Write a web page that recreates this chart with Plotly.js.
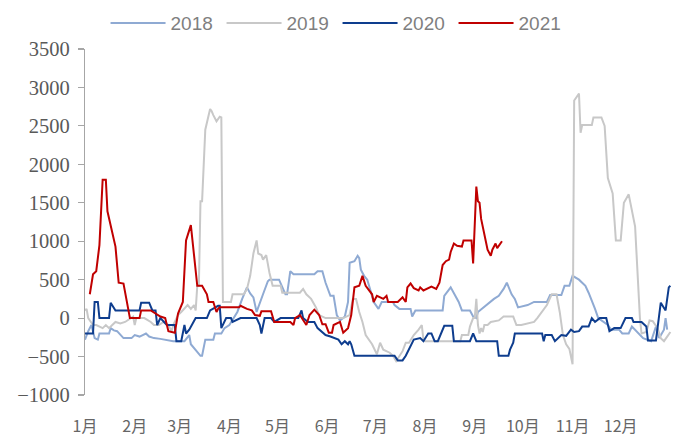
<!DOCTYPE html>
<html>
<head>
<meta charset="utf-8">
<script src="https://cdn.plot.ly/plotly-3.0.1.min.js"></script>
<style>html,body{margin:0;padding:0;background:#fff;}#chart{width:676px;height:437px;}</style>
</head>
<body>
<div id="chart"></div>
<script>
// x values are day-of-year offsets (0 = 1月1日)
const seriesNames = ['2018', '2019', '2020', '2021'];
const monthTickFormat = '%-m月';

const days2018 = [0,2,4,6,8,9,15,16,18,20,24,29,31,34,36,38,40,43,47,50,55,62,65,66,68,72,73,74,75,80,81,85,87,90,95,98,101,103,105,107,109,111,114,115,121,123,125,126,128,130,143,145,148,150,153,155,157,159,162,164,165,168,170,171,172,174,176,178,180,183,185,192,193,196,203,204,206,223,224,228,230,233,235,240,242,244,245,250,255,258,261,263,266,268,270,276,280,288,290,297,299,302,304,308,312,314,316,318,320,326,328,333,335,339,341,344,348,353,356,358,361,362,363];
const vals2018 = [-280,-170,-90,-260,-280,-200,-200,-130,-160,-170,-260,-260,-220,-240,-220,-200,-240,-260,-270,-280,-300,-300,-220,-340,-390,-490,-490,-400,-280,-280,-200,-200,-130,-90,80,250,400,320,270,80,210,310,480,500,500,400,310,310,610,570,570,610,610,460,290,290,40,-30,20,210,720,740,810,780,630,550,500,360,210,120,210,210,170,120,120,20,100,100,290,400,330,210,100,100,20,0,80,170,250,290,380,460,310,250,140,170,210,210,300,300,420,420,550,500,420,330,230,120,0,-90,-150,-150,-200,-200,-110,-170,-260,-300,-110,-260,-150,0,-150];

const days2019 = [0,1,2,5,7,11,13,15,17,19,22,25,30,31,32,37,41,43,46,49,52,54,55,58,60,62,64,66,68,69,70,71,72,73,74,75,78,79,80,82,84,85,86,91,92,99,101,103,105,107,108,110,111,113,115,117,122,123,134,136,138,141,144,146,148,150,161,165,167,169,171,173,175,179,182,183,184,186,190,192,194,198,200,202,205,208,210,211,212,234,235,239,240,242,243,244,245,246,247,248,249,251,253,258,261,267,269,272,280,282,285,288,291,294,296,298,300,302,304,305,308,309,310,316,317,322,324,326,329,331,334,336,339,342,343,346,347,350,352,354,357,359,361,363,365];
const vals2019 = [100,120,0,-90,-90,-130,-90,-130,-90,-50,-70,-50,20,-90,0,0,-50,-90,-90,-50,-90,-170,-90,40,80,120,170,120,170,100,420,420,1520,1520,2030,2450,2720,2690,2640,2560,2620,2610,210,210,310,310,380,550,840,1010,840,820,760,820,590,420,420,330,330,380,310,250,140,40,20,0,0,40,250,250,80,-50,-220,-340,-470,-390,-320,-410,-450,-490,-560,-430,-320,-320,-220,-150,-90,-280,-300,-300,-220,-220,-110,0,0,250,-90,-200,-130,-180,-90,-90,-50,-30,20,20,-90,-90,-50,0,80,170,310,310,80,-220,-340,-400,-600,2830,2920,2410,2510,2510,2610,2610,2500,1820,1620,1010,1010,1500,1610,1310,1190,0,-200,-180,-30,-40,-130,-260,-300,-240,-180];

const days2020 = [0,5,6,8,9,15,16,19,34,35,40,42,44,45,47,51,56,57,60,62,63,65,69,76,78,83,84,85,88,91,92,97,107,109,110,112,116,118,122,133,135,136,139,143,145,150,153,155,158,160,162,164,165,166,168,193,195,198,200,205,209,211,214,216,218,220,222,224,229,230,240,242,244,257,258,264,265,267,268,285,286,287,291,293,297,300,303,305,308,310,314,316,318,321,325,327,330,334,337,341,342,347,350,351,356,359,362,364,365];
const vals2020 = [-200,-200,210,210,0,0,200,100,100,200,200,100,100,-90,0,-90,-90,-300,-300,-90,-200,-150,0,0,100,160,160,-130,0,0,-50,0,0,-90,-200,0,0,-50,0,0,100,0,-50,-50,-130,-220,-240,-260,-280,-340,-300,-340,-300,-340,-490,-490,-550,-550,-490,-280,-260,-300,-200,-200,-300,-300,-200,-100,-100,-300,-300,-200,-300,-300,-490,-490,-410,-320,-200,-200,-300,-220,-220,-300,-220,-230,-150,-180,-170,-110,-110,0,-50,0,0,-170,-130,-130,0,0,-50,-50,-110,-290,-290,200,100,400,420];

const days2021 = [3,5,7,9,11,13,14,19,21,24,28,34,35,41,47,50,52,56,58,61,63,66,70,73,76,77,80,82,83,84,96,97,101,104,106,109,110,116,118,128,130,131,134,138,140,143,146,148,150,152,154,155,159,161,164,166,168,171,173,175,179,180,182,186,188,189,195,198,200,201,203,205,208,209,211,216,219,221,223,225,227,228,230,232,235,236,241,242,244,245,246,247,250,251,253,254,256,257,260];
const vals2021 = [310,570,610,950,1800,1800,1390,930,460,450,0,0,100,100,20,0,-170,-190,60,210,1010,1210,420,420,310,210,210,80,120,140,140,160,120,100,40,30,90,90,-50,-50,-90,0,40,-90,40,110,40,-80,-80,-190,-190,-90,-50,-190,-130,40,400,420,550,420,310,210,290,250,290,210,210,270,210,400,450,390,360,400,360,410,380,460,690,740,760,860,970,940,930,1010,1010,710,1710,1520,1500,1290,990,890,810,890,970,910,1000];

const yTickVals = [-1000,-500,0,500,1000,1500,2000,2500,3000,3500];

function dayToDate(d) {
  const ms = Date.UTC(2021, 0, 1) + d * 86400000;
  return new Date(ms).toISOString().slice(0, 19).replace('T', ' ');
}

const colors = ['#8FAAD3', '#C8C8C8', '#0E3D8E', '#C00000'];
const allDays = [days2018, days2019, days2020, days2021];
const allVals = [vals2018, vals2019, vals2020, vals2021];

const traces = seriesNames.map((name, i) => ({
  type: 'scatter',
  mode: 'lines',
  name: name,
  x: allDays[i].map(dayToDate),
  y: allVals[i],
  line: {color: colors[i], width: 2},
  hoverinfo: 'x+y+name'
}));

const xRange = [dayToDate(0), dayToDate(366)];

const layout = {
  width: 676,
  height: 437,
  margin: {l: 85, r: 4, t: 41, b: 42},
  paper_bgcolor: '#ffffff',
  plot_bgcolor: '#ffffff',
  showlegend: true,
  legend: {
    orientation: 'h',
    x: 0.035,
    xanchor: 'left',
    y: 1.075,
    yanchor: 'middle',
    font: {family: 'Liberation Sans, Arial, sans-serif', size: 19, color: '#7F7F7F'},
    itemwidth: 55,
    entrywidth: 46,
    traceorder: 'normal',
    bgcolor: 'rgba(0,0,0,0)'
  },
  xaxis: {
    type: 'date',
    range: xRange,
    dtick: 'M1',
    tick0: dayToDate(0),
    tickformat: monthTickFormat,
    ticks: '',
    showline: false,
    showgrid: false,
    zeroline: false,
    ticklabelstandoff: 20,
    tickfont: {family: 'Noto Sans CJK SC, sans-serif', size: 16, color: '#666666'}
  },
  xaxis2: {
    type: 'date',
    overlaying: 'x',
    matches: 'x',
    range: xRange,
    anchor: 'free',
    position: 1000 / 4500,
    side: 'bottom',
    dtick: 'M1',
    tick0: dayToDate(0),
    ticks: 'outside',
    ticklen: 6,
    tickwidth: 1.2,
    tickcolor: '#BFBFBF',
    showticklabels: false,
    showline: true,
    linecolor: '#BFBFBF',
    linewidth: 1.5,
    showgrid: false,
    zeroline: false
  },
  yaxis: {
    range: [-1000, 3500],
    tickvals: yTickVals,
    ticks: 'outside',
    ticklen: 6,
    tickwidth: 1.2,
    tickcolor: '#A6A6A6',
    showline: true,
    linecolor: '#A6A6A6',
    linewidth: 1.2,
    showgrid: false,
    zeroline: false,
    ticklabelstandoff: 4,
    tickfont: {family: 'Liberation Serif, Times New Roman, serif', size: 20.5, color: '#595959'}
  }
};

Plotly.newPlot('chart', traces, layout, {displayModeBar: false, staticPlot: true});
</script>
</body>
</html>
